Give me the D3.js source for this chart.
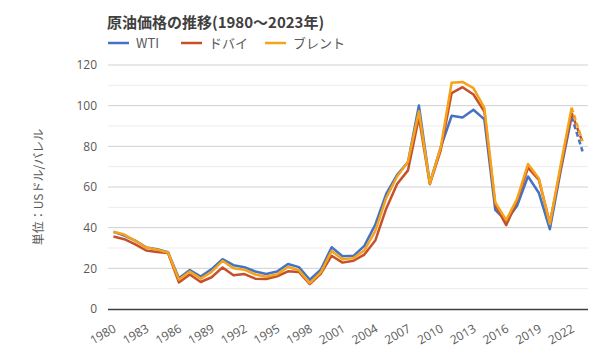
<!DOCTYPE html>
<html><head><meta charset="utf-8">
<script src="https://cdn.jsdelivr.net/npm/d3@7"></script>
<style>
body{margin:0;background:#fff;}
svg{display:block;font-family:"Noto Sans CJK JP","Noto Sans",sans-serif;}
</style></head>
<body><svg id="c" width="600" height="360"></svg>
<script>
const years = d3.range(1980, 2024);
const wti = [37.96,36.08,33.65,30.30,29.39,27.98,15.10,19.18,15.97,19.64,24.50,21.54,20.57,18.45,17.21,18.42,22.16,20.61,14.39,19.31,30.37,25.93,26.16,31.07,41.49,56.59,66.02,72.20,100.06,61.92,79.45,95.04,94.13,97.99,93.28,48.71,43.34,50.79,65.20,57.03,39.25,68.10,94.59,77.58];
const dubai = [35.69,34.32,31.80,28.78,28.06,27.53,13.10,16.95,13.27,15.62,20.45,16.63,17.17,14.93,14.74,16.10,18.52,18.23,12.21,17.25,26.20,22.81,23.74,26.78,33.64,49.35,61.50,68.19,94.34,61.39,78.06,106.18,109.08,105.47,97.07,51.20,41.19,53.13,69.51,63.49,42.21,69.23,96.39,82.03];
const brent = [38.0,36.6,33.5,30.2,29.2,27.8,14.43,18.44,14.92,18.23,23.73,20.00,19.32,16.97,15.82,17.02,20.67,19.09,12.72,17.97,28.50,24.44,25.02,28.83,38.27,54.52,65.14,72.39,97.26,61.67,79.50,111.26,111.67,108.66,98.95,52.39,43.73,54.19,71.31,64.21,41.84,70.91,99.04,82.49];
const seriesNames = ["WTI","ドバイ","ブレント"];
const yTicks = [0,20,40,60,80,100,120];
const xTickYears = d3.range(1980, 2024, 3);

const colors = ["#4472C4","#C5502A","#F5A31A"];
const series = [wti, dubai, brent];

const svg = d3.select("#c");
const pL = 108, pR = 588, pT = 65, pB = 309;
const x = d3.scalePoint().domain(years).range([pL, pR]).padding(0.5);
const y = d3.scaleLinear().domain([0,120]).range([pB, pT]);

// minor gridlines
svg.append("g").selectAll("line").data(d3.range(10,120,20)).join("line")
  .attr("x1",pL).attr("x2",pR).attr("y1",d=>y(d)).attr("y2",d=>y(d))
  .attr("stroke","#ededed").attr("stroke-width",1);
// major gridlines
svg.append("g").selectAll("line").data(yTicks.slice(1)).join("line")
  .attr("x1",pL).attr("x2",pR).attr("y1",d=>y(d)).attr("y2",d=>y(d))
  .attr("stroke","#d0d0d0").attr("stroke-width",1);

// y axis labels
const yAxis = d3.axisLeft(y).tickValues(yTicks).tickSize(0).tickPadding(11);
const gy = svg.append("g").attr("transform",`translate(${pL},0)`).call(yAxis);
gy.select(".domain").remove();
gy.selectAll("text").attr("fill","#595959").style("font-size","12px").style("font-family","'Open Sans','DejaVu Sans',sans-serif");

// x axis
const xAxis = d3.axisBottom(x).tickValues(xTickYears).tickSize(0).tickFormat(d3.format("d"));
const gx = svg.append("g").attr("transform",`translate(0,${pB})`).call(xAxis);
gx.select(".domain").attr("d",`M${pL},0.5H${pR}`).attr("stroke","#404040").attr("stroke-width",1.5);
gx.selectAll("text").attr("fill","#595959").style("font-size","12px")
  .style("font-family","'Open Sans','DejaVu Sans',sans-serif")
  .attr("text-anchor","end").attr("dy","0").attr("y",0)
  .attr("transform","translate(3,22) rotate(-30)");

// lines
const line = d3.line().x(d=>x(d[0])).y(d=>y(d[1]));
series.forEach((vals,i)=>{
  const pts = years.map((yr,j)=>[yr, vals[j]]);
  svg.append("path").datum(pts.slice(0, pts.length-1)).attr("d",line)
    .attr("fill","none").attr("stroke",colors[i]).attr("stroke-width",2.5)
    .attr("stroke-linejoin","round");
  svg.append("path").datum(pts.slice(pts.length-2)).attr("d",line)
    .attr("fill","none").attr("stroke",colors[i]).attr("stroke-width",2.5)
    .attr("stroke-dasharray","5,3");
});

// title
svg.append("text").attr("x",107).attr("y",28).text("原油価格の推移(1980～2023年)")
  .attr("fill","#404040").style("font-size","15px").style("font-weight","bold");

// legend
const legX = [108, 181, 265];
seriesNames.forEach((n,i)=>{
  svg.append("line").attr("x1",legX[i]).attr("x2",legX[i]+21).attr("y1",43).attr("y2",43)
    .attr("stroke",colors[i]).attr("stroke-width",2.5);
  svg.append("text").attr("x",legX[i]+28).attr("y",48).text(n)
    .attr("fill","#595959").style("font-size","13px");
});

// y axis title
svg.append("text").attr("transform","translate(43,187) rotate(-90)")
  .attr("text-anchor","middle").text("単位：USドル/バレル")
  .attr("fill","#595959").style("font-size","12px");
</script></body></html>
